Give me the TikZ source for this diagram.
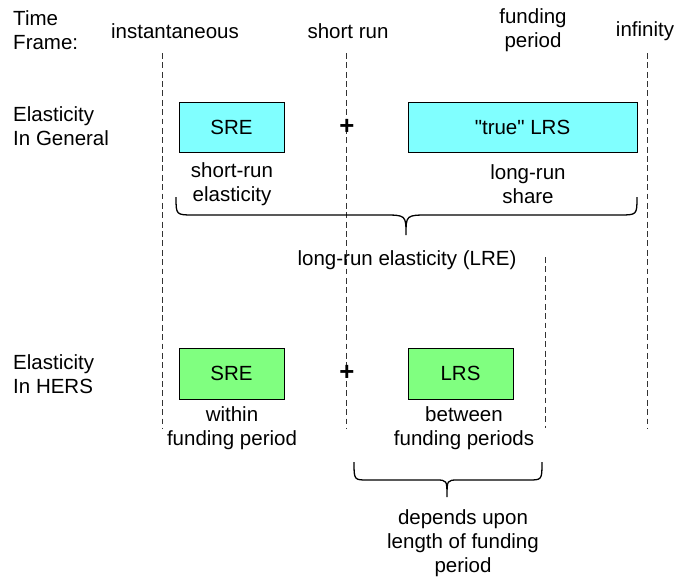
\documentclass[tikz,border=0pt]{standalone}
\usepackage{fontspec}
\setmainfont{Liberation Sans}
\definecolor{boxcyan}{HTML}{80FFFF}
\definecolor{boxgreen}{HTML}{80FF80}

\begin{document}
\begin{tikzpicture}[x=0.03cm, y=-0.03cm,
    every node/.style = {font=\fontsize{17.5}{20.5}\selectfont, inner sep=0pt},
    lbl/.style = {align=center},
    plus/.style = {font=\fontsize{22}{24}\selectfont\bfseries},
    gen/.style = {rectangle, draw=black, line width=0.6pt, fill=boxcyan,
      minimum height=1.5cm, text centered},
    hers/.style = {rectangle, draw=black, line width=0.6pt, fill=boxgreen,
      minimum height=1.53cm, minimum width=3.15cm, text centered},
    guide/.style = {draw=black!80, dash pattern=on 5pt off 3pt, line width=0.6pt},
    brc/.style = {line width=1.1pt}]
  \useasboundingbox (0,0) rectangle (678,577);

  % time frame
  \node[anchor=west, align=left] (timeLbl) at (13,30) {Time\\Frame:};
  \node[lbl] (instLbl) at (175,31) {instantaneous};
  \node[lbl] (shortLbl) at (348,31) {short run};
  \node[lbl] (fundLbl) at (533,30) {funding\\period};
  \node[lbl] (infLbl) at (645,31) {infinity};
  \foreach \x in {162, 346, 647}
    \draw[guide] (\x,53) -- (\x,428);
  \draw[guide] (545,257) -- (545,428);

  % elasticity in general
  \node[anchor=west, align=left] (genLbl) at (13,126) {Elasticity\\In General};
  \node[gen, minimum width=3.15cm] (sreGen) at (231.5,127) {SRE};
  \node[plus] (plusGen) at (347,127) {+};
  \node[gen, minimum width=6.87cm] (lrsGen) at (522.5,127) {\textquotedbl true\textquotedbl{} LRS};
  \node[lbl] (sreGenTxt) at (232,184) {short-run\\elasticity};
  \node[lbl] (lrsGenTxt) at (528,184) {long-run\\share};
  \draw[brc] (176,197) .. controls (176,215) .. (194,215) -- (383,215)
    .. controls (406,215) .. (406,235) .. controls (406,215) .. (429,215)
    -- (619,215) .. controls (637,215) .. (637,197);
  \node[lbl] (lreLbl) at (407,260) {long-run elasticity (LRE)};

  % elasticity in HERS
  \node[anchor=west, align=left] (hersLbl) at (13,374) {Elasticity\\In HERS};
  \node[hers] (sreHers) at (231.5,373.5) {SRE};
  \node[plus] (plusHers) at (347,373) {+};
  \node[hers] (lrsHers) at (460.5,373.5) {LRS};
  \node[lbl] (sreHersTxt) at (232,428) {within\\funding period};
  \node[lbl] (lrsHersTxt) at (464,428) {between\\funding periods};
  \draw[brc] (354,462) .. controls (354,480) .. (368,480) -- (436,480)
    .. controls (447,480) .. (447,497) .. controls (447,480) .. (458,480)
    -- (528,480) .. controls (542,480) .. (542,462);
  \node[lbl] (depLbl) at (463,543) {depends upon\\length of funding\\period};
\end{tikzpicture}
\end{document}
